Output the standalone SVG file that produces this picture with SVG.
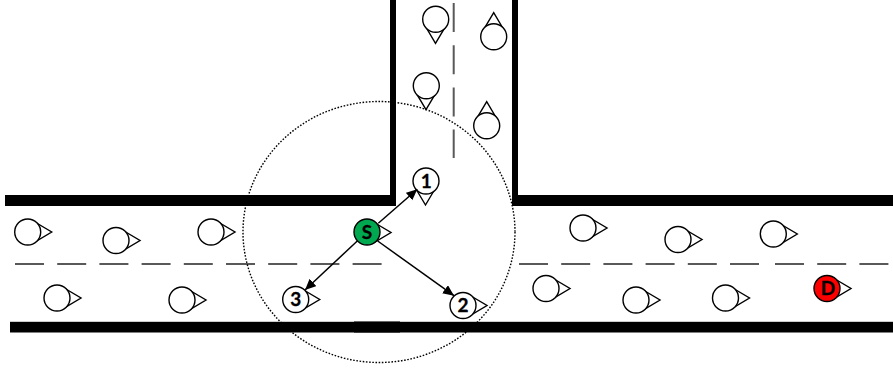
<svg xmlns="http://www.w3.org/2000/svg" xmlns:xlink="http://www.w3.org/1999/xlink" width="893" height="372" viewBox="0 0 893 372">
<style>
.road{fill:#000}
.dash{fill:none;stroke:#595959;stroke-width:2;stroke-dasharray:29 13.2}
.range{fill:none;stroke:#000;stroke-width:1.4;stroke-dasharray:1.6 1.6}
.tri{fill:#fff;stroke:#000;stroke-width:1.4;stroke-linejoin:miter}
.body{fill:#fff;stroke:#000;stroke-width:1.4}
.s{fill:#00a84f}
.d{fill:#ff0000}
.lbl{font-family:Lato,"Open Sans","Liberation Sans",sans-serif;font-weight:700;font-size:19px;fill:#000;stroke:#000;stroke-width:.3;text-anchor:middle}
.link{stroke:#000;stroke-width:1.5;fill:none;marker-end:url(#arrow)}
</style>
<defs>
<marker id="arrow" markerUnits="userSpaceOnUse" markerWidth="12" markerHeight="11" refX="11" refY="5" orient="auto"><path d="M0 0L11 5L0 10Z" fill="#000"/></marker>
<polygon id="tri" class="tri" points="8,-9.5 24,0 8,9.5"/>
</defs>
<rect width="893" height="372" fill="#fff"/>
<g id="roads">
<rect class="road" x="5" y="195" width="391" height="11"/>
<rect class="road" x="512" y="195" width="381" height="11"/>
<rect class="road" x="10" y="321.8" width="883" height="10.7"/>
<rect class="road" x="354" y="321.5" width="46" height="11"/>
<rect class="road" x="390" y="0" width="6" height="206"/>
<rect class="road" x="512" y="0" width="6" height="206"/>
<path class="dash" d="M15 264H384"/>
<path class="dash" d="M519 264H759"/>
<path class="dash" d="M775 264H889"/>
<path class="dash" d="M453.7 3V158"/>
</g>
<g id="range"><ellipse class="range" cx="379" cy="232" rx="136" ry="130.5"/></g>
<g id="v1"><use xlink:href="#tri" transform="translate(27.7,232)"/><circle class="body" cx="27.7" cy="232" r="13"/></g>
<g id="v2"><use xlink:href="#tri" transform="translate(116,240.5)"/><circle class="body" cx="116" cy="240.5" r="13"/></g>
<g id="v3"><use xlink:href="#tri" transform="translate(211,232)"/><circle class="body" cx="211" cy="232" r="13"/></g>
<g id="v4"><use xlink:href="#tri" transform="translate(57,298)"/><circle class="body" cx="57" cy="298" r="13"/></g>
<g id="v5"><use xlink:href="#tri" transform="translate(182,300)"/><circle class="body" cx="182" cy="300" r="13"/></g>
<g id="v6"><use xlink:href="#tri" transform="translate(583,228)"/><circle class="body" cx="583" cy="228" r="13"/></g>
<g id="v7"><use xlink:href="#tri" transform="translate(678,239.5)"/><circle class="body" cx="678" cy="239.5" r="13"/></g>
<g id="v8"><use xlink:href="#tri" transform="translate(773.3,234)"/><circle class="body" cx="773.3" cy="234" r="13"/></g>
<g id="v9"><use xlink:href="#tri" transform="translate(546,288.5)"/><circle class="body" cx="546" cy="288.5" r="13"/></g>
<g id="v10"><use xlink:href="#tri" transform="translate(636,300)"/><circle class="body" cx="636" cy="300" r="13"/></g>
<g id="v11"><use xlink:href="#tri" transform="translate(725.5,298)"/><circle class="body" cx="725.5" cy="298" r="13"/></g>
<g id="v12"><use xlink:href="#tri" transform="translate(435.5,19.3) rotate(90)"/><circle class="body" cx="435.7" cy="19.3" r="13"/></g>
<g id="v13"><use xlink:href="#tri" transform="translate(493.7,36.7) rotate(-90)"/><circle class="body" cx="493.7" cy="36.7" r="13"/></g>
<g id="v14"><use xlink:href="#tri" transform="translate(426,85.7) rotate(90)"/><circle class="body" cx="426.3" cy="85.7" r="13"/></g>
<g id="v15"><use xlink:href="#tri" transform="translate(486.7,125.7) rotate(-90)"/><circle class="body" cx="486.7" cy="125.7" r="13"/></g>
<g id="n1"><use xlink:href="#tri" transform="translate(425.5,181) rotate(90)"/><circle class="body" cx="426" cy="181" r="13"/><text class="lbl" x="426.3" y="187.5">1</text></g>
<g id="n2"><use xlink:href="#tri" transform="translate(463,305.5)"/><circle class="body" cx="463" cy="305.5" r="13"/><text class="lbl" x="463" y="312">2</text></g>
<g id="n3"><use xlink:href="#tri" transform="translate(295.7,299.5)"/><circle class="body" cx="295.7" cy="299.5" r="13"/><text class="lbl" x="295.7" y="306">3</text></g>
<g id="S"><use xlink:href="#tri" transform="translate(367,232.5)"/><circle class="body s" cx="367" cy="232" r="13"/><text class="lbl" x="367" y="238.5">S</text></g>
<g id="D"><use xlink:href="#tri" transform="translate(827,288.5)"/><circle class="body d" cx="827" cy="288.5" r="13"/><text class="lbl" x="828" y="295">D</text></g>
<g id="connectors">
<path class="link" d="M378.3 223.3L417.3 189.3"/>
<path class="link" d="M377.7 241L454 295.7"/>
<path class="link" d="M357.3 241L305 290"/>
</g>
</svg>
